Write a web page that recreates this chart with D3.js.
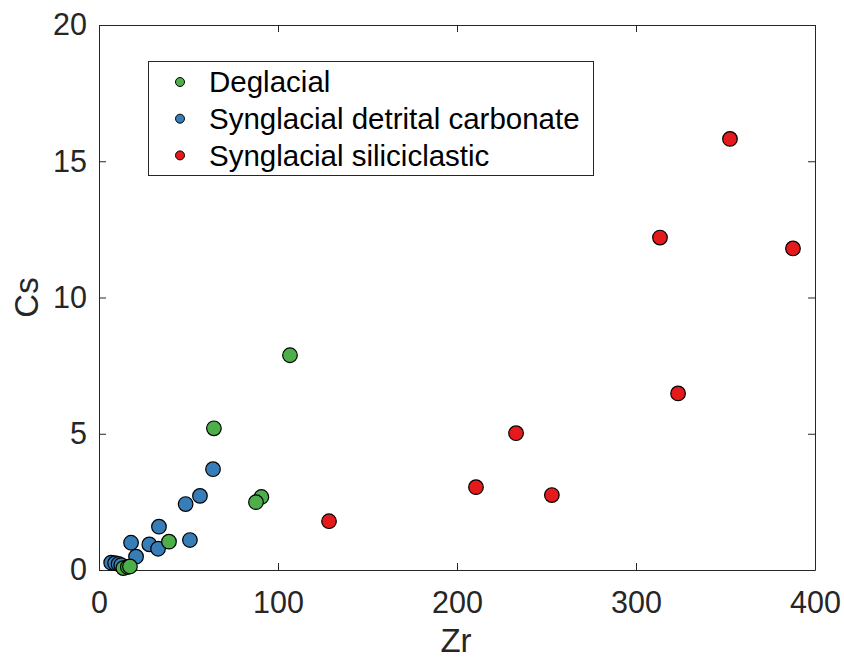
<!DOCTYPE html>
<html>
<head>
  <script src="https://cdn.jsdelivr.net/npm/d3@7/dist/d3.min.js"></script>
  <style>
    html, body { margin: 0; padding: 0; background: #fff; }
    svg { display: block; font-family: "Liberation Sans", Arial, Helvetica, sans-serif; }
    .tick text { font-size: 30.5px; fill: #262626; }
    .axis path, .axis line { stroke: #262626; stroke-width: 1px; }
  </style>
</head>
<body>
  <svg class="svg" width="844" height="658"></svg>
  <script>
    // Zr vs Cs
    var deglacialZr = [106.7, 64.2, 90.7, 87.7, 39.1, 13.6, 16.1, 17.3];
    var deglacialCs = [7.88, 5.2, 2.68, 2.49, 1.04, 0.07, 0.11, 0.13];

    var detritalZr = [63.7, 56.4, 48.4, 33.5, 17.9, 28.1, 33.0, 50.8, 20.7, 6.8, 9.0, 10.9, 12.4];
    var detritalCs = [3.7, 2.72, 2.42, 1.59, 1.0, 0.94, 0.78, 1.10, 0.49, 0.27, 0.25, 0.22, 0.18];

    var siliciclasticZr = [128.5, 210.6, 233.0, 253.0, 313.4, 323.5, 352.5, 387.7];
    var siliciclasticCs = [1.79, 3.04, 5.02, 2.75, 12.2, 6.48, 15.82, 11.8];

    var legendLabels = ['Deglacial', 'Synglacial detrital carbonate', 'Synglacial siliciclastic'];
    var colors = ['#4daf4a', '#377eb8', '#e41a1c'];

    var xTicks = [0, 100, 200, 300, 400];
    var yTicks = [0, 5, 10, 15, 20];

    var svg = d3.select('.svg');
    var mLeft = 99, mRight = 815, mTop = 25, mBottom = 570;

    var x = d3.scaleLinear().domain([0, 400]).range([mLeft, mRight]);
    var y = d3.scaleLinear().domain([0, 20]).range([mBottom, mTop]);

    // axes with inward ticks, box on
    svg.append('g').attr('class', 'axis xb')
      .attr('transform', `translate(0,${mBottom})`)
      .call(d3.axisBottom(x).tickValues(xTicks).tickSizeInner(-7).tickSizeOuter(0).tickPadding(21));
    svg.append('g').attr('class', 'axis yl')
      .attr('transform', `translate(${mLeft},0)`)
      .call(d3.axisLeft(y).tickValues(yTicks).tickSizeInner(-7).tickSizeOuter(0).tickPadding(12));
    svg.append('g').attr('class', 'axis')
      .attr('transform', `translate(0,${mTop})`)
      .call(d3.axisTop(x).tickValues(xTicks).tickSizeInner(-7).tickSizeOuter(0).tickFormat(''));
    svg.append('g').attr('class', 'axis')
      .attr('transform', `translate(${mRight},0)`)
      .call(d3.axisRight(y).tickValues(yTicks).tickSizeInner(-7).tickSizeOuter(0).tickFormat(''));

    // axis labels
    svg.append('text')
      .attr('x', 456).attr('y', 652)
      .attr('text-anchor', 'middle')
      .style('font-size', '33px').style('fill', '#262626')
      .text('Zr');
    svg.append('text')
      .attr('transform', `translate(38,${(mTop + mBottom) / 2}) rotate(-90)`)
      .attr('text-anchor', 'middle')
      .style('font-size', '33px').style('fill', '#262626')
      .text('Cs');

    // points
    var series = [
      { xs: detritalZr, ys: detritalCs, c: colors[1] },
      { xs: deglacialZr, ys: deglacialCs, c: colors[0] },
      { xs: siliciclasticZr, ys: siliciclasticCs, c: colors[2] }
    ];
    series.forEach(function (s) {
      svg.append('g').selectAll('circle')
        .data(d3.range(s.xs.length))
        .enter()
        .append('circle')
        .attr('cx', i => x(s.xs[i]))
        .attr('cy', i => y(s.ys[i]))
        .attr('r', 7.3)
        .attr('fill', s.c)
        .attr('stroke', '#000')
        .attr('stroke-width', 1.2);
    });

    // legend
    var lg = svg.append('g');
    lg.append('rect')
      .attr('x', 148.5).attr('y', 61.5).attr('width', 445).attr('height', 114)
      .attr('fill', '#fff').attr('stroke', '#262626').attr('stroke-width', 1);
    lg.selectAll('g.item')
      .data(legendLabels)
      .enter()
      .append('g')
      .attr('class', 'item')
      .attr('transform', (d, i) => `translate(0,${82 + i * 36.7})`)
      .each(function (d, i) {
        var g = d3.select(this);
        g.append('circle').attr('cx', 180).attr('cy', 0).attr('r', 4.5)
          .attr('fill', colors[i]).attr('stroke', '#000').attr('stroke-width', 1);
        g.append('text').attr('x', 209).attr('y', 0).attr('dy', '0.35em')
          .style('font-size', '29.5px').style('fill', '#000').text(d);
      });
  </script>
</body>
</html>
